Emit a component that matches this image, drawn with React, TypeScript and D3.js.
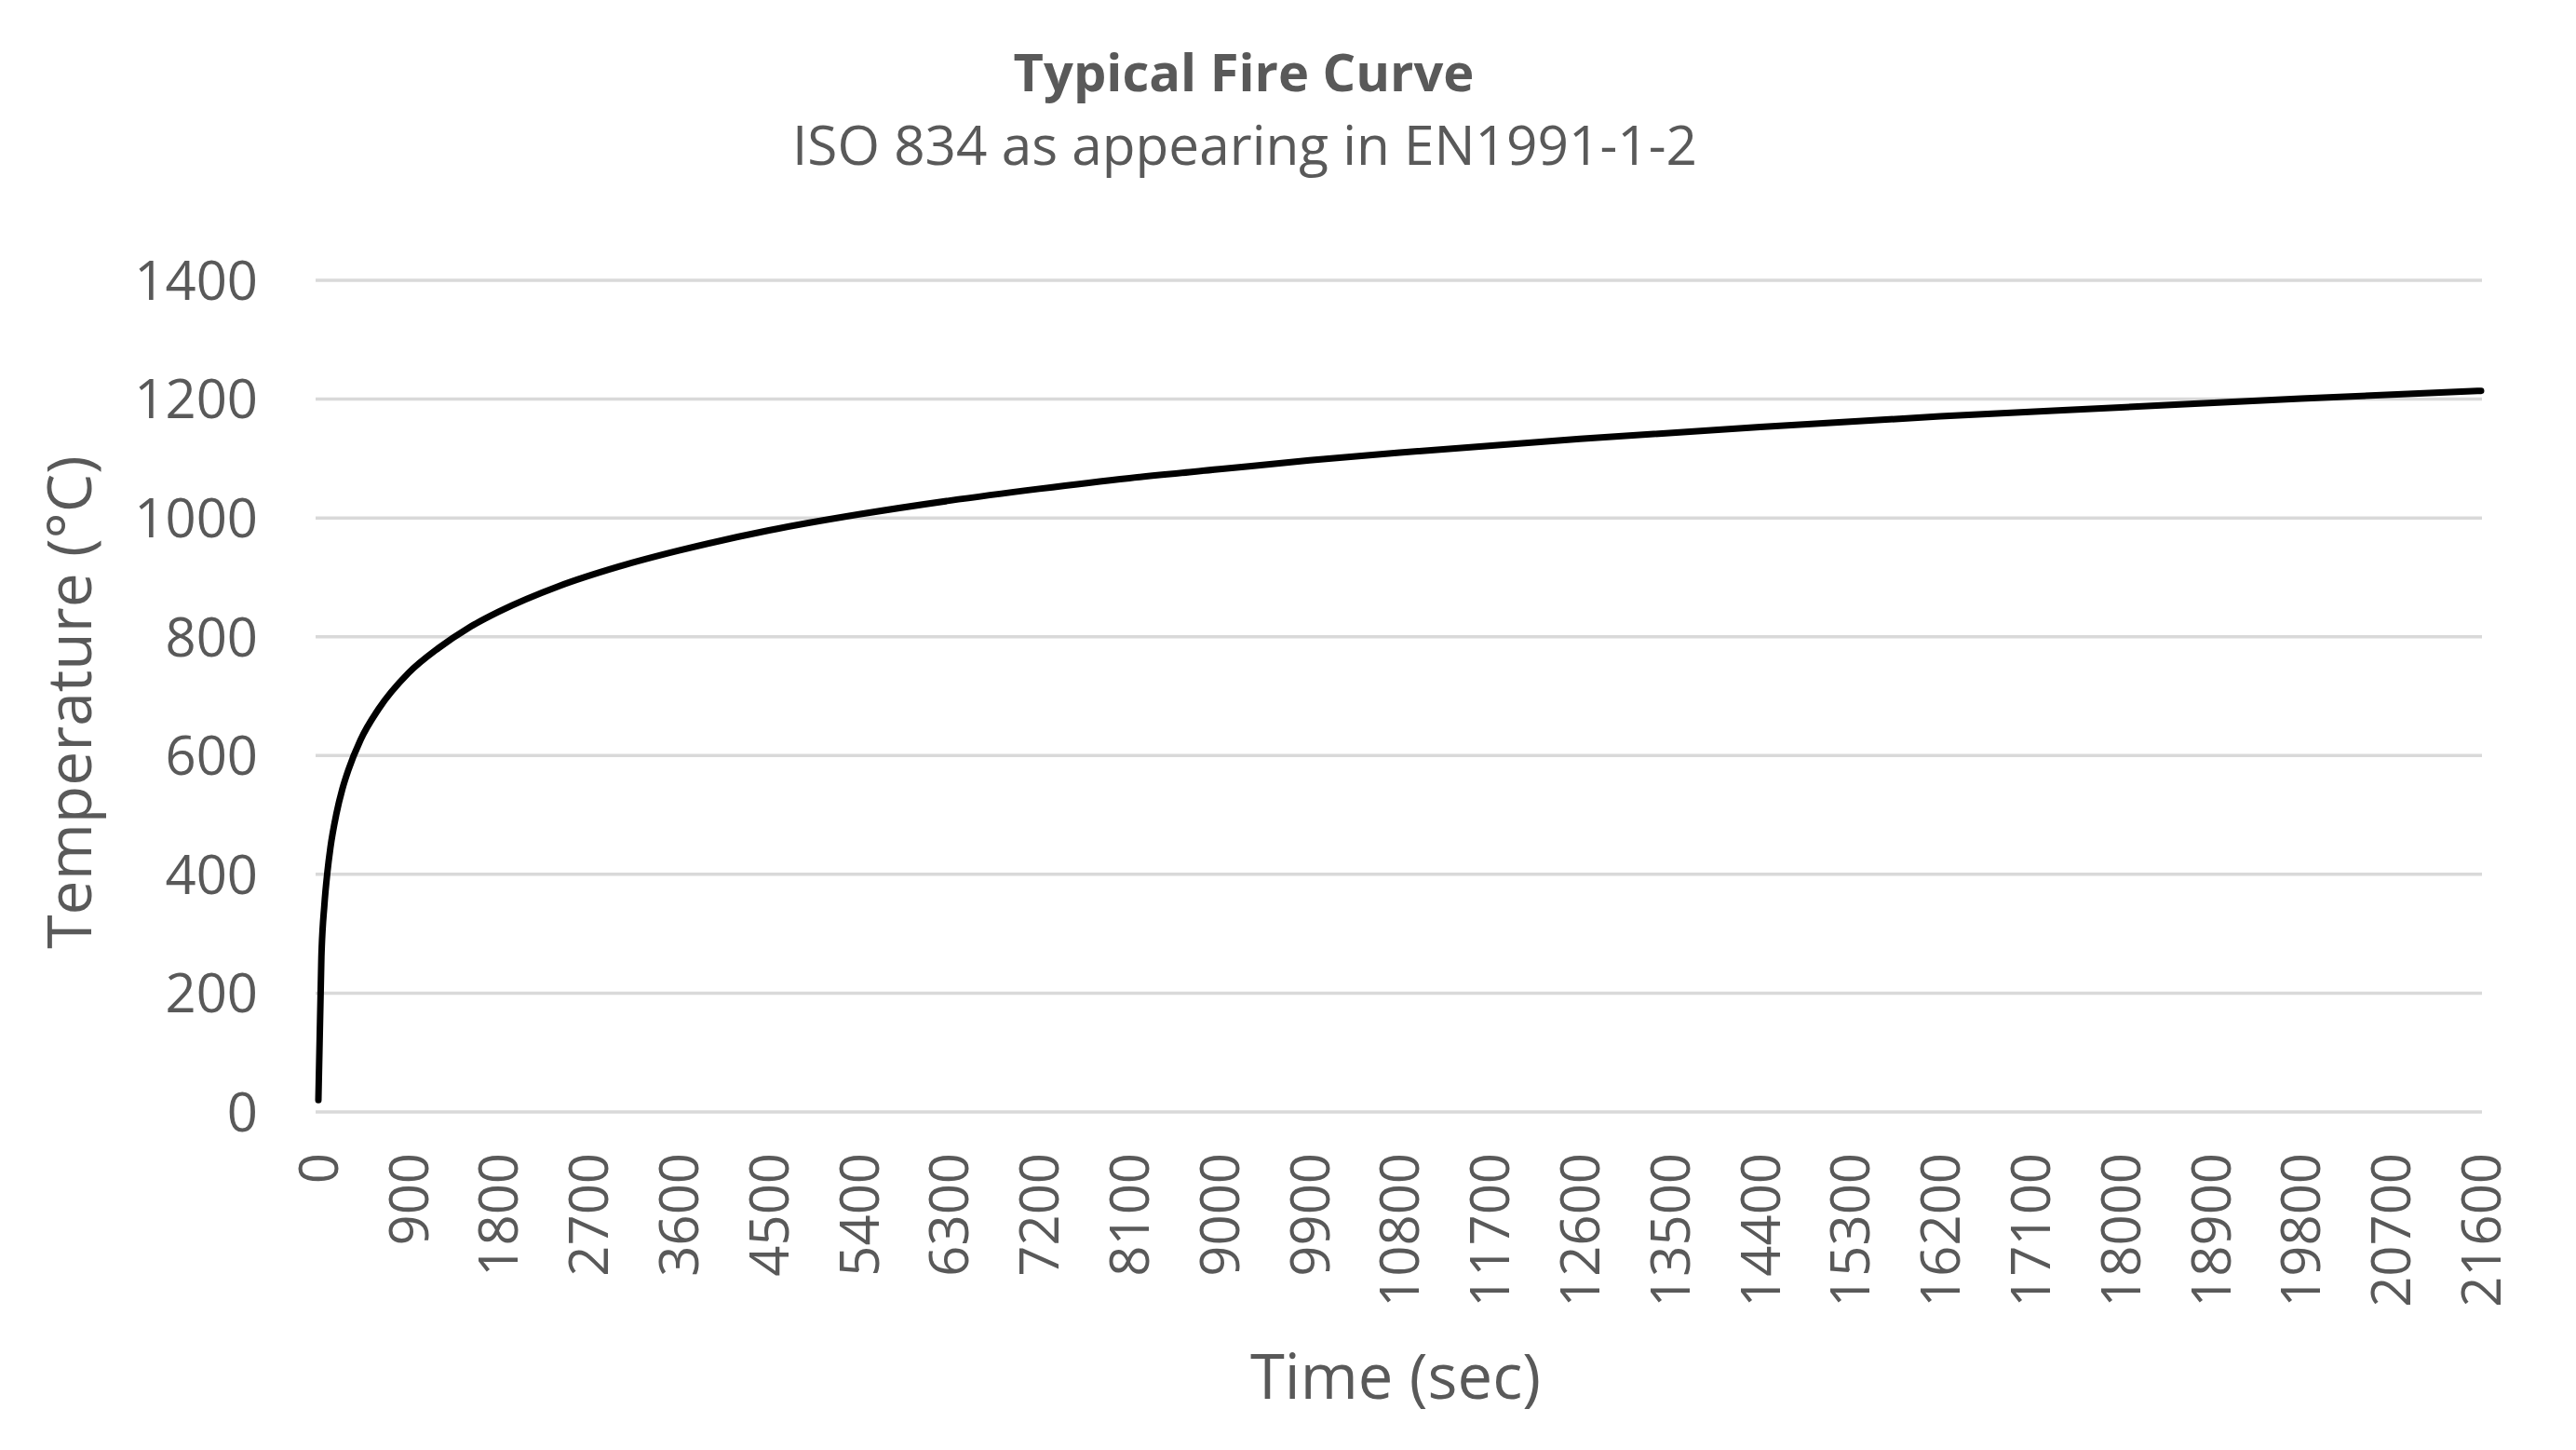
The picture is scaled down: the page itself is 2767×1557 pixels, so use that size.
import * as d3 from "d3";

// readings: seconds -> degrees C
const timeSec = [
  0, 30, 60, 90, 120, 180, 240, 300, 420, 600, 900, 1200, 1500, 1800, 2400,
  3000, 3600, 4500, 5400, 6300, 7200, 8100, 9000, 9900, 10800, 12600, 14400,
  16200, 18000, 19800, 21600,
];
const tempC = [
  20, 261, 349, 404, 445, 502, 544, 576, 626, 678, 739, 781, 815, 842, 885,
  918, 945, 979, 1006, 1029, 1049, 1067, 1082, 1097, 1110, 1133, 1153, 1171,
  1186, 1201, 1214,
];

const xTicks = [
  0, 900, 1800, 2700, 3600, 4500, 5400, 6300, 7200, 8100, 9000, 9900, 10800,
  11700, 12600, 13500, 14400, 15300, 16200, 17100, 18000, 18900, 19800, 20700,
  21600,
];
const yTicks = [0, 200, 400, 600, 800, 1000, 1200, 1400];

const title = "Typical Fire Curve";
const subtitle = "ISO 834 as appearing in EN1991-1-2";
const xTitle = "Time (sec)";
const yTitle = "Temperature (°C)";

const W = 2767;
const H = 1557;
const plot = { left: 339, right: 2666, top: 301, bottom: 1194 };
const font = "'Open Sans', sans-serif";
const grey = "#595959";

export default function App() {
  const x = d3.scaleLinear().domain([0, 21600]).range([342, 2665]);
  const y = d3.scaleLinear().domain([0, 1400]).range([plot.bottom, plot.top]);

  const points = timeSec.map((t, i) => [t, tempC[i]] as [number, number]);
  const line = d3
    .line<[number, number]>()
    .x((d) => x(d[0]))
    .y((d) => y(d[1]))
    .curve(d3.curveMonotoneX);

  return (
    <svg
      width={W}
      height={H}
      style={{ position: "absolute", left: 0, top: 0, display: "block", background: "#fff" }}
      fontFamily={font}
    >
      <rect width={W} height={H} fill="#fff" />

      <text x={1336} y={98} textAnchor="middle" fontSize={56} fontWeight="bold" fill={grey}>
        {title}
      </text>
      <text x={1337} y={177} textAnchor="middle" fontSize={58.5} fill={grey}>
        {subtitle}
      </text>

      {yTicks.map((v) => (
        <g key={v}>
          <line
            x1={plot.left}
            x2={plot.right}
            y1={y(v)}
            y2={y(v)}
            stroke="#d9d9d9"
            strokeWidth={3.5}
          />
          <text
            x={277}
            y={y(v)}
            dy="0.36em"
            textAnchor="end"
            fontSize={58}
            fill={grey}
          >
            {v}
          </text>
        </g>
      ))}

      {xTicks.map((t) => (
        <text
          key={t}
          transform={`translate(${x(t)},1238) rotate(-90)`}
          dy="0.36em"
          textAnchor="end"
          fontSize={58}
          fill={grey}
        >
          {t}
        </text>
      ))}

      <path d={line(points) ?? ""} fill="none" stroke="#000" strokeWidth={7} strokeLinecap="round" strokeLinejoin="round" />

      <text x={1499} y={1502} textAnchor="middle" fontSize={67} fill={grey}>
        {xTitle}
      </text>
      <text
        transform="translate(98,754) rotate(-90)"
        textAnchor="middle"
        fontSize={66}
        fill={grey}
      >
        {yTitle}
      </text>
    </svg>
  );
}
